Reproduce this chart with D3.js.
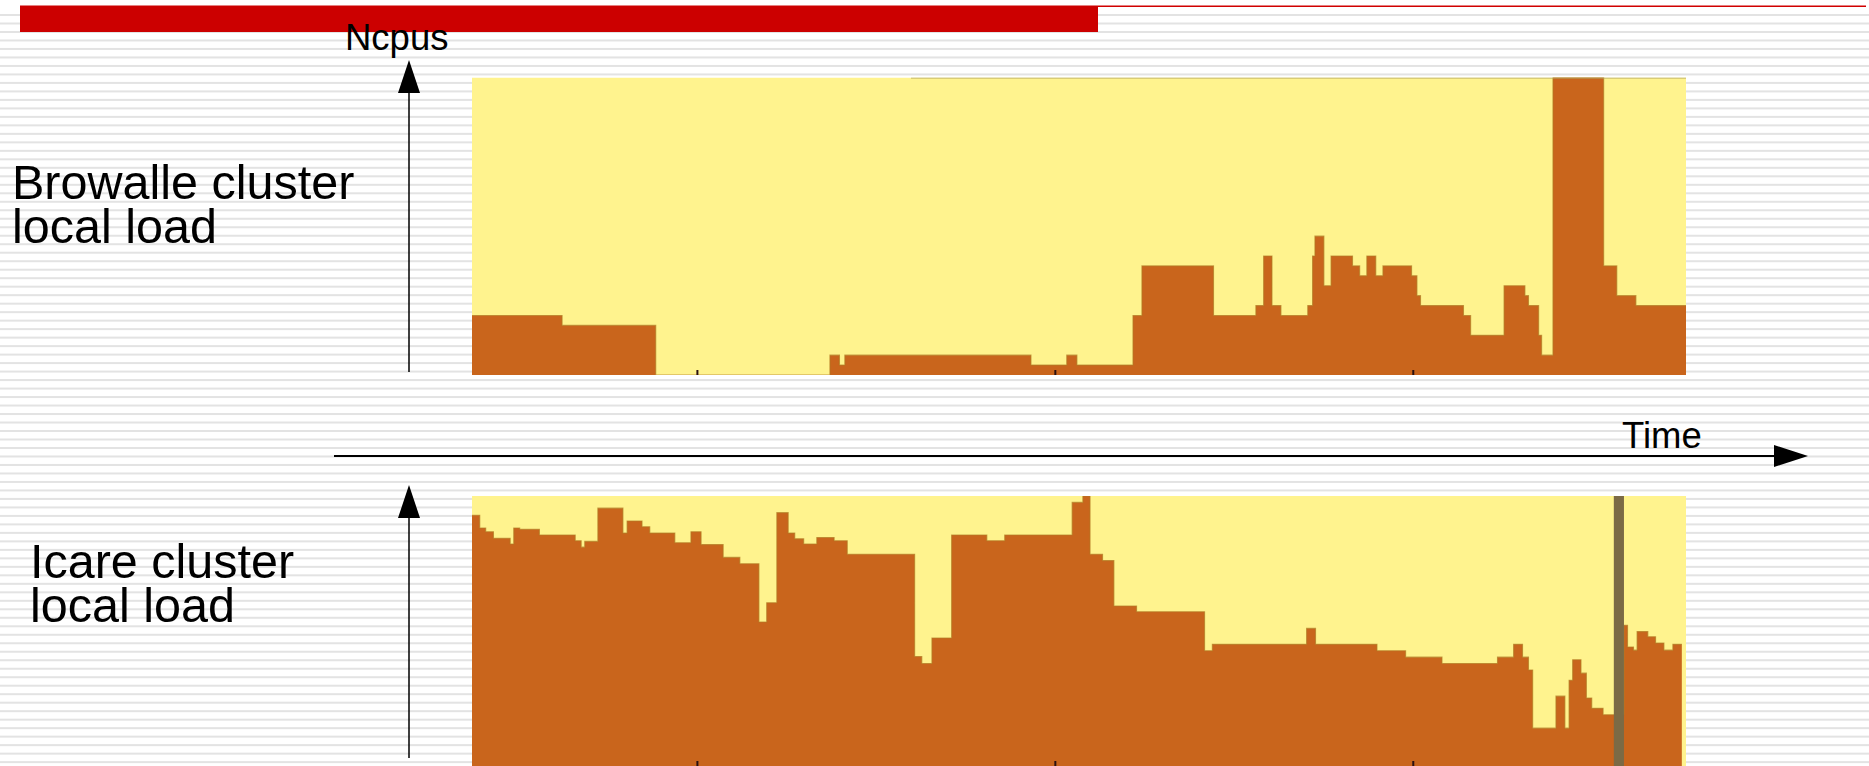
<!DOCTYPE html>
<html><head><meta charset="utf-8">
<script src="https://cdn.jsdelivr.net/npm/d3@7"></script>
<style>html,body{margin:0;padding:0;background:#fff;overflow:hidden}svg{display:block}</style>
</head><body>
<svg id="c" width="1869" height="766"></svg>
<script>
// ---- data (time in minutes, load in Ncpus) ----
const timeTicks = [60, 120, 180];
const browalleTimes = [22.3, 37.4, 53.1, 82.3, 83.9, 84.8, 116.0, 122.0, 123.7, 133.1, 134.6, 146.6, 153.7, 155.0, 156.4, 157.9, 162.4, 163.2, 163.6, 165.1, 166.3, 169.9, 171.1, 172.3, 173.8, 175.0, 179.8, 180.7, 181.3, 188.5, 189.7, 195.3, 198.8, 199.4, 201.1, 201.6, 203.5, 212.0, 214.2, 217.4, 225.8];
const browalleLoad  = [6, 5, 0, 2, 1, 2, 1, 2, 1, 6, 11, 6, 7, 12, 7, 6, 7, 12, 14, 9, 12, 11, 10, 12, 10, 11, 10, 8, 7, 6, 4, 9, 8, 7, 4, 2, 30, 11, 8, 7];
const browalleCpus = 30;
const icareTimes = [22.3, 23.6, 24.6, 25.9, 28.7, 29.3, 30.3, 33.6, 39.6, 40.6, 41.2, 43.4, 47.6, 48.3, 50.8, 52.1, 56.3, 59.0, 60.7, 64.4, 67.2, 70.4, 71.7, 73.4, 75.3, 76.4, 77.9, 80.1, 83.0, 85.2, 96.5, 97.7, 99.4, 102.7, 108.6, 111.6, 122.9, 124.7, 125.9, 128.0, 129.9, 133.7, 145.1, 146.4, 162.2, 163.7, 174.0, 178.8, 184.9, 194.2, 196.9, 198.4, 199.4, 200.1, 204.0, 205.5, 206.2, 206.8, 208.2, 209.1, 210.0, 211.9, 215.4, 216.0, 217.0, 217.6, 219.4, 220.7, 222.1, 223.6, 225.1];
const icareLoad  = [40, 38.0, 37.4, 36.4, 35.5, 38.0, 37.8, 36.9, 36.0, 35.0, 35.9, 41.1, 37.2, 39.1, 38.2, 37.2, 35.7, 37.4, 35.4, 33.4, 32.4, 23.3, 26.3, 40.4, 37.2, 36.3, 35.5, 36.5, 36.0, 33.9, 17.9, 16.8, 20.8, 36.9, 36.0, 36.9, 42.0, 43, 33.9, 32.9, 25.8, 24.9, 18.8, 19.8, 22.3, 19.8, 18.8, 17.8, 16.8, 17.8, 19.8, 17.8, 15.8, 6.7, 11.7, 6.7, 14.2, 17.4, 15.3, 11.4, 9.8, 8.8, 22.8, 19.4, 18.9, 21.8, 21.0, 20.0, 18.9, 19.8];
const icareCpus = 43;
const icareEvent = [213.7, 215.4];
const timeDomain = [22.3, 225.8];
const panelLabels = [["Browalle cluster", "local load"], ["Icare cluster", "local load"]];

// ---- drawing ----
const svg = d3.select('#c');
const W = 1869, H = 766;
const YELLOW = '#fff38e', ORANGE = '#c9651c', EDGE = '#b07a22';
const FONT = '"Liberation Sans", Arial, Helvetica, sans-serif';

// striped background
svg.append('rect').attr('width', W).attr('height', H).attr('fill', '#fff');
svg.append('g').selectAll('rect').data(d3.range(15, H, 8.49)).join('rect')
  .attr('x', 0).attr('y', d => d - 1).attr('width', W).attr('height', 2).attr('fill', '#e3e3e3');

// title bar
svg.append('rect').attr('x', 20).attr('y', 5.5).attr('width', 1078).attr('height', 26.5).attr('fill', '#cc0000');
svg.append('line').attr('x1', 1098).attr('x2', 1866).attr('y1', 6.3).attr('y2', 6.3).attr('stroke', '#d00000').attr('stroke-width', 1.6);

const x = d3.scaleLinear().domain(timeDomain).range([472, 1686]);
const yTop = d3.scaleLinear().domain([0, browalleCpus]).range([375, 77.5]);
const yBot = d3.scaleLinear().domain([0, icareCpus]).range([771, 496]);

const defs = svg.append('defs');
function panel(id, times, load, y, y0, y1) {
  const px = x(timeDomain[0]), pw = x(timeDomain[1]) - x(timeDomain[0]);
  defs.append('clipPath').attr('id', id).append('rect').attr('x', px).attr('y', y1).attr('width', pw).attr('height', y0 - y1);
  const g = svg.append('g').attr('clip-path', `url(#${id})`);
  g.append('rect').attr('x', px).attr('y', y1).attr('width', pw).attr('height', y0 - y1).attr('fill', YELLOW);
  const pts = times.map((t, i) => [t, load[Math.min(i, load.length - 1)]]);
  const area = d3.area().curve(d3.curveStepAfter).x(d => x(d[0])).y0(y0 + 2).y1(d => y(d[1]));
  g.append('path').datum(pts).attr('d', area).attr('fill', ORANGE);
  const line = d3.line().curve(d3.curveStepAfter).x(d => x(d[0])).y(d => y(d[1]));
  g.append('path').datum(pts).attr('d', line).attr('fill', 'none').attr('stroke', EDGE).attr('stroke-width', 1.1).attr('opacity', 0.7);
  return g;
}
const gTop = panel('cTop', browalleTimes, browalleLoad, yTop, 375, 77.5);
gTop.append('line').attr('x1', 911).attr('x2', 1686).attr('y1', 78).attr('y2', 78).attr('stroke', '#b3a65e').attr('stroke-width', 1.2);
const gBot = panel('cBot', icareTimes, icareLoad, yBot, 766, 496);
gBot.append('rect').attr('x', x(icareEvent[0])).attr('y', 496).attr('width', x(icareEvent[1]) - x(icareEvent[0]))
  .attr('height', 270).attr('fill', '#7b6a45');

// time ticks
const axTop = d3.axisBottom(x).tickValues(timeTicks).tickFormat('').tickSizeInner(-5).tickSizeOuter(0);
[375, 766].forEach(ty => {
  svg.append('g').attr('transform', `translate(0,${ty})`).call(axTop)
    .call(g => g.select('.domain').remove())
    .call(g => g.selectAll('line').attr('stroke', '#2a1010').attr('stroke-width', 2));
});

// axes arrows
function vArrow(xc, tip, base, end) {
  svg.append('line').attr('x1', xc).attr('x2', xc).attr('y1', base).attr('y2', end).attr('stroke', '#000').attr('stroke-width', 1.5);
  svg.append('path').attr('d', d3.line()([[xc, tip], [xc - 11, base], [xc + 11, base]]) + 'Z').attr('fill', '#000');
}
vArrow(409, 60, 93, 372);
vArrow(409, 485, 518, 758);
svg.append('line').attr('x1', 334).attr('x2', 1775).attr('y1', 456).attr('y2', 456).attr('stroke', '#000').attr('stroke-width', 1.8);
svg.append('path').attr('d', d3.line()([[1808, 456], [1774, 445], [1774, 467]]) + 'Z').attr('fill', '#000');

// texts
svg.append('text').attr('x', 345).attr('y', 50).attr('font-family', FONT).attr('font-size', 36.5).text('Ncpus');
svg.append('text').attr('x', 1622).attr('y', 448).attr('font-family', FONT).attr('font-size', 36.5).text('Time');
[[12, 199], [30, 578]].forEach(([lx, ly], i) => {
  const t = svg.append('text').attr('x', lx).attr('y', ly).attr('font-family', FONT).attr('font-size', 48.5).attr('fill', '#000');
  panelLabels[i].forEach((s, j) => t.append('tspan').attr('x', lx).attr('dy', j ? 44 : 0).text(s));
});
</script>
</body></html>
